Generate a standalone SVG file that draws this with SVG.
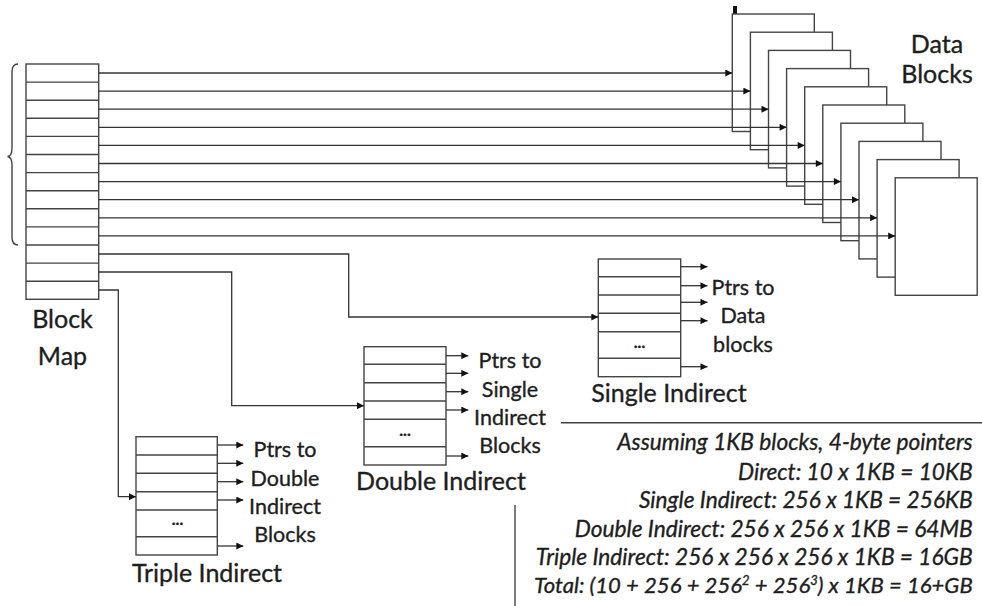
<svg xmlns="http://www.w3.org/2000/svg" width="982" height="606" viewBox="0 0 982 606">
<defs>
<style>
.box{fill:#fff;stroke:#444;stroke-width:1.4}
.ln{fill:none;stroke:#444;stroke-width:1.4}
.arr{fill:none;stroke:#333;stroke-width:1.3;marker-end:url(#ah)}
text{font-family:Lato,"Liberation Sans",sans-serif;fill:#1e1e1e;stroke:#1e1e1e;stroke-width:0.35}
.big{font-size:25px;text-anchor:middle}
.mid{font-size:21.5px;text-anchor:middle}
.note{font-size:22.7px;font-style:italic;text-anchor:end}
.note2{font-size:22.1px;font-style:italic;text-anchor:end}
.sup{font-size:13px}
.dots{font-size:16px;text-anchor:middle;font-weight:bold}
</style>
<marker id="ah" viewBox="0 0 10 10" refX="10" refY="5" markerWidth="8" markerHeight="7" markerUnits="userSpaceOnUse" orient="auto"><path d="M0,0 L10,5 L0,10 z" fill="#111"/></marker>
</defs>
<rect width="982" height="606" fill="#fff"/>

<g id="data-blocks">
<rect x="733" y="6" width="4" height="8" fill="#111"/>
<rect class="box" x="732.3" y="14" width="82" height="117.5"/>
<rect class="box" x="750.4" y="32.2" width="82" height="117.5"/>
<rect class="box" x="768.5" y="50.4" width="82" height="117.5"/>
<rect class="box" x="786.6" y="68.6" width="82" height="117.5"/>
<rect class="box" x="804.7" y="86.8" width="82" height="117.5"/>
<rect class="box" x="822.8" y="105" width="82" height="117.5"/>
<rect class="box" x="840.9" y="123.2" width="82" height="117.5"/>
<rect class="box" x="859" y="141.4" width="82" height="117.5"/>
<rect class="box" x="877.1" y="159.6" width="82" height="117.5"/>
<rect class="box" x="895.2" y="177.8" width="82" height="117.5"/>
<text class="big" x="937" y="53">Data</text>
<text class="big" x="937" y="83">Blocks</text>
</g>

<g id="block-map">
<rect class="box" x="26" y="64" width="72.7" height="235.3"/>
<path class="ln" d="M26,82.1H98.7M26,100.2H98.7M26,118.3H98.7M26,136.4H98.7M26,154.5H98.7M26,172.6H98.7M26,190.7H98.7M26,208.8H98.7M26,226.9H98.7M26,245H98.7M26,263.1H98.7M26,281.2H98.7"/>
<path class="ln" d="M18,64 Q12,64 12,72 L12,148 Q12,156 7.5,156.5 Q12,157 12,165 L12,237 Q12,245 18,245"/>
<text class="big" x="62.5" y="328">Block</text>
<text class="big" x="62.5" y="365">Map</text>
</g>

<g id="single-indirect">
<rect class="box" x="598.3" y="259" width="82.4" height="117.7"/>
<path class="ln" d="M598.3,276.7H680.7M598.3,295H680.7M598.3,313.3H680.7M598.3,331.7H680.7M598.3,358.3H680.7"/>
<text class="dots" x="639.5" y="348">...</text>
<text class="mid" x="743" y="295">Ptrs to</text>
<text class="mid" x="743" y="323">Data</text>
<text class="mid" x="743" y="351.5">blocks</text>
<text class="big" x="669" y="401.5">Single Indirect</text>
</g>

<g id="double-indirect">
<rect class="box" x="364" y="346.7" width="82" height="118.3"/>
<path class="ln" d="M364,364.3H446M364,382.7H446M364,401H446M364,419.3H446M364,446.7H446"/>
<text class="dots" x="405" y="436">...</text>
<text class="mid" x="510" y="368.3">Ptrs to</text>
<text class="mid" x="510" y="396.7">Single</text>
<text class="mid" x="510" y="425">Indirect</text>
<text class="mid" x="510" y="452.7">Blocks</text>
<text class="big" x="441" y="490">Double Indirect</text>
</g>

<g id="triple-indirect">
<rect class="box" x="136" y="436.7" width="81.3" height="118.3"/>
<path class="ln" d="M136,455H217.3M136,473.3H217.3M136,491.7H217.3M136,510H217.3M136,536.7H217.3"/>
<text class="dots" x="177.5" y="525">...</text>
<text class="mid" x="285" y="456.7">Ptrs to</text>
<text class="mid" x="285" y="486">Double</text>
<text class="mid" x="285" y="514">Indirect</text>
<text class="mid" x="285" y="541.7">Blocks</text>
<text class="big" x="207" y="581.7">Triple Indirect</text>
</g>

<g id="connectors">
<path class="arr" d="M98.7,73H732.3"/>
<path class="arr" d="M98.7,91.1H750.4"/>
<path class="arr" d="M98.7,109.2H768.5"/>
<path class="arr" d="M98.7,127.3H786.6"/>
<path class="arr" d="M98.7,145.4H804.7"/>
<path class="arr" d="M98.7,163.5H822.8"/>
<path class="arr" d="M98.7,181.6H840.9"/>
<path class="arr" d="M98.7,199.7H859"/>
<path class="arr" d="M98.7,217.8H877.1"/>
<path class="arr" d="M98.7,235.9H895.2"/>
<path class="arr" d="M98.7,254H348.7V317H598.3"/>
<path class="arr" d="M98.7,272H231.7V405.7H364"/>
<path class="arr" d="M98.7,290H118.3V496.7H136"/>
<path class="arr" d="M680.7,266.7H707.5"/>
<path class="arr" d="M680.7,285.7H707.5"/>
<path class="arr" d="M680.7,302.3H707.5"/>
<path class="arr" d="M680.7,320.7H707.5"/>
<path class="arr" d="M680.7,366.7H707.5"/>
<path class="arr" d="M446,355.7H468.3"/>
<path class="arr" d="M446,373.3H468.3"/>
<path class="arr" d="M446,391.7H468.3"/>
<path class="arr" d="M446,410H468.3"/>
<path class="arr" d="M446,456H468.3"/>
<path class="arr" d="M217.3,445H243.3"/>
<path class="arr" d="M217.3,463.3H243.3"/>
<path class="arr" d="M217.3,481.7H243.3"/>
<path class="arr" d="M217.3,500H243.3"/>
<path class="arr" d="M217.3,546H243.3"/>
</g>

<g id="notes">
<path class="ln" d="M561,422.7H982M515,505V606"/>
<text class="note" x="972.7" y="450">Assuming 1KB blocks, 4-byte pointers</text>
<text class="note" x="972.7" y="480">Direct: 10 x 1KB = 10KB</text>
<text class="note" x="972.7" y="508.3">Single Indirect: 256 x 1KB = 256KB</text>
<text class="note" x="972.7" y="536.7">Double Indirect: 256 x 256 x 1KB = 64MB</text>
<text class="note" x="972.7" y="565">Triple Indirect: 256 x 256 x 256 x 1KB = 16GB</text>
<text class="note2" x="972.7" y="593.3">Total: (10 + 256 + 256<tspan class="sup" dy="-8">2</tspan><tspan dy="8"> + 256</tspan><tspan class="sup" dy="-8">3</tspan><tspan dy="8">) x 1KB = 16+GB</tspan></text>
</g>
</svg>
